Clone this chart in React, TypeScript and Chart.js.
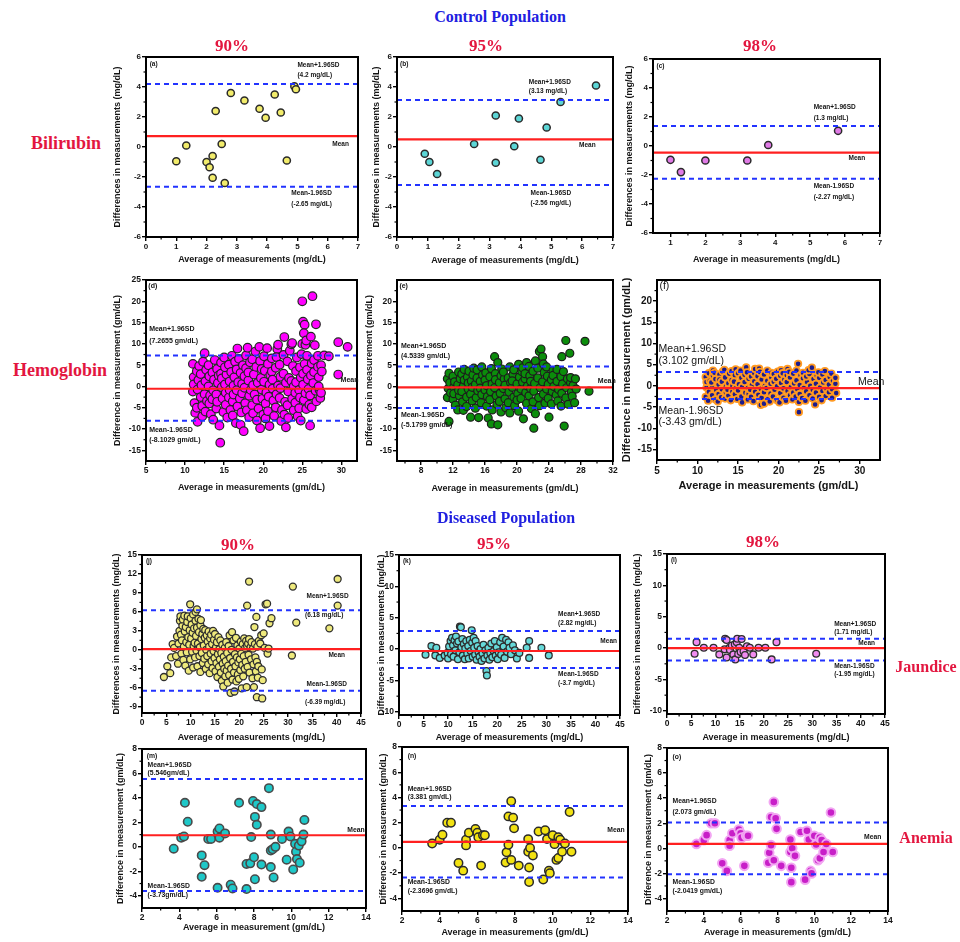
import React, { useEffect, useRef } from 'react';
import { Chart, registerables } from 'chart.js';
Chart.register(...registerables);

type Pt = [number, number];

// ---------- data ----------
const bili90: Pt[] = [[1.0,-0.95],[1.33,0.1],[2.3,2.4],[2.0,-1.0],[2.1,-1.35],[2.2,-0.6],[2.2,-2.05],[2.5,0.2],[2.6,-2.4],[2.8,3.6],[3.25,3.1],[3.75,2.55],[3.95,1.95],[4.25,3.5],[4.45,2.3],[4.65,-0.9],[4.9,4.05],[4.95,3.85]];
const bili95: Pt[] = [[0.9,-0.45],[1.05,-1.0],[1.3,-1.8],[2.5,0.2],[3.2,2.1],[3.2,-1.05],[3.8,0.05],[3.95,1.9],[4.65,-0.85],[4.85,1.3],[5.3,3.0],[6.45,4.1]];
const bili98: Pt[] = [[1.0,-0.95],[1.3,-1.8],[2.0,-1.0],[3.2,-1.0],[3.8,0.07],[5.8,1.05]];

const hb90: Pt[] = [[11.0,5.3],[11.1,2.2],[11.0,-1.2],[11.2,-3.9],[11.1,0.5],[11.3,-6.2],[11.5,3.6],[11.6,-0.7],[11.5,-5.0],[11.7,1.5],[11.6,-8.3],[11.8,4.8],
[12.0,-2.5],[12.1,0.3],[12.0,2.9],[12.2,-4.6],[12.3,5.8],[12.2,-7.0],[12.5,7.8],[12.6,1.2],[12.5,-1.8],[12.7,3.9],[12.8,-3.4],[12.6,-5.9],
[13.0,0.0],[13.1,2.4],[13.2,-2.1],[13.0,5.0],[13.3,-6.5],[13.1,-4.0],[13.5,3.3],[13.6,-0.9],[13.7,1.6],[13.5,-3.0],[13.8,6.2],[13.6,-7.8],
[14.0,-1.9],[14.1,4.1],[14.2,0.8],[14.0,-5.2],[14.3,2.6],[14.1,-3.6],[14.4,-9.2],[14.5,-13.2],[14.6,5.6],[14.7,-0.2],[14.8,-2.8],[14.6,3.0],[14.9,-6.0],[14.7,1.9],
[15.1,0.5],[15.2,-4.3],[15.0,6.8],[15.3,2.8],[15.2,-1.5],[15.4,-7.3],[15.1,4.5],[15.6,-2.6],[15.7,1.2],[15.8,-5.5],[15.6,5.1],[15.9,3.4],[15.7,-0.8],[16.0,7.2],
[16.1,-3.5],[16.2,0.2],[16.3,2.2],[16.1,-6.8],[16.4,5.8],[16.2,-1.9],[16.5,-8.6],[16.6,4.0],[16.7,-4.7],[16.8,1.0],[16.6,-0.9],[16.9,6.5],[16.7,8.9],[17.0,-2.8],
[17.1,3.2],[17.2,-6.1],[17.3,0.6],[17.1,-9.0],[17.4,5.0],[17.3,-1.6],[17.5,-10.5],[17.6,2.4],[17.7,-3.9],[17.8,7.3],[17.6,-0.3],[17.9,-5.6],[17.8,4.3],
[18.1,1.4],[18.2,-2.2],[18.0,9.1],[18.3,5.7],[18.2,-7.2],[18.4,-0.8],[18.1,3.3],[18.6,-4.4],[18.7,0.3],[18.8,2.8],[18.6,6.4],[18.9,-1.9],[18.7,-6.3],
[19.1,4.6],[19.2,-3.1],[19.0,8.2],[19.3,0.9],[19.4,-5.2],[19.2,-8.0],[19.5,9.3],[19.6,-9.8],[19.7,2.0],[19.8,-0.7],[19.6,6.0],[19.9,-2.9],[19.8,4.1],[20.0,-6.6],
[20.1,1.1],[20.2,3.7],[20.3,-4.0],[20.1,7.1],[20.4,-1.4],[20.5,9.0],[20.3,-7.5],[20.6,5.3],[20.7,-2.4],[20.8,0.4],[20.6,-5.8],[20.9,2.7],[20.8,-9.3],
[21.1,6.6],[21.2,-0.5],[21.3,-3.3],[21.1,3.5],[21.4,-6.9],[21.2,1.6],[21.6,4.4],[21.7,-1.8],[21.8,8.8],[21.6,-4.9],[21.9,0.2],[21.7,6.9],[21.9,9.8],
[22.1,-2.7],[22.2,2.3],[22.3,-8.1],[22.1,5.1],[22.4,-5.5],[22.2,-0.4],[22.6,3.0],[22.7,11.6],[22.8,-3.6],[22.6,7.4],[22.9,0.9],[22.7,-6.6],[22.9,-9.6],
[23.1,5.9],[23.2,-1.2],[23.3,2.0],[23.1,-4.4],[23.4,8.4],[23.2,-7.4],[23.6,1.3],[23.7,-2.9],[23.8,4.8],[23.6,9.9],[23.9,-5.6],[23.7,10.2],[23.9,0.0],
[24.1,-1.5],[24.2,3.6],[24.3,6.8],[24.1,-3.8],[24.4,-7.0],[24.2,1.0],[24.6,-0.8],[24.7,4.5],[24.8,2.1],[24.6,-5.1],[24.9,7.6],[24.7,-2.6],[24.8,-8.0],
[25.0,20.0],[25.1,15.2],[25.3,14.5],[25.2,12.5],[25.0,10.0],[25.4,9.8],[25.1,0.4],[25.2,-3.2],[25.3,5.3],[25.1,3.0],[25.4,-1.6],[25.5,-5.3],
[25.6,7.2],[25.7,1.7],[25.8,-0.6],[25.6,3.9],[25.9,-4.3],[25.5,10.8],[26.0,-9.2],[26.1,2.6],[26.2,5.4],[26.0,-2.1],[26.3,21.2],[26.1,11.7],[26.2,-4.9],[26.4,0.8],
[26.5,6.2],[26.75,14.6],[26.7,-1.0],[26.5,3.4],[26.8,-3.5],[26.6,9.7],[27.0,7.2],[27.1,2.2],[27.2,-0.8],[27.0,4.6],[27.3,-2.7],[27.1,0.0],[27.4,5.0],
[27.8,7.3],[28.4,7.1],[27.5,3.5],[27.4,-1.5],[29.6,10.4],[30.8,9.3],[29.6,2.8]];

const hb95: Pt[] = [[11.3,1.8],[11.4,-0.5],[11.3,-2.6],[11.5,-8.2],[11.6,0.9],[11.7,-1.5],[11.5,3.1],[12.0,2.4],[12.1,-0.1],[12.0,-3.0],[12.2,1.1],[12.3,-4.4],[12.1,-1.7],
[12.6,0.4],[12.7,3.4],[12.8,-2.2],[12.6,-5.5],[12.9,1.8],[12.7,-0.9],[13.1,2.9],[13.2,-3.6],[13.3,0.1],[13.1,-1.2],[13.4,4.0],[13.3,-5.6],[13.4,1.5],
[13.7,-2.5],[13.8,2.2],[13.9,-0.6],[13.7,-4.7],[14.0,3.6],[13.9,0.8],[14.2,-1.8],[14.3,1.3],[14.4,-3.4],[14.2,-7.2],[14.5,2.7],[14.4,-0.2],[14.6,4.3],
[14.8,0.5],[14.9,-2.6],[15.0,2.0],[14.8,-5.1],[15.1,-1.0],[15.0,3.9],[15.2,-7.3],[15.4,1.2],[15.5,-3.8],[15.6,4.6],[15.4,-0.4],[15.7,2.7],[15.6,-1.9],
[16.0,-0.8],[16.1,3.2],[16.2,-4.6],[16.0,1.5],[16.3,-2.4],[16.2,0.2],[16.4,-7.4],[16.6,2.3],[16.7,-1.2],[16.8,4.2],[16.6,-3.1],[16.9,0.6],[16.8,-8.8],[16.9,-5.5],
[17.2,-0.3],[17.3,3.0],[17.2,7.0],[17.4,-2.2],[17.3,1.6],[17.5,-4.2],[17.6,5.6],[17.6,-9.0],[17.8,0.9],[17.9,-1.6],[18.0,2.5],[17.8,-3.5],[18.1,4.1],[18.0,-6.0],
[18.3,-0.5],[18.4,1.8],[18.5,-2.9],[18.3,3.4],[18.6,-5.0],[18.5,0.3],[18.9,2.0],[19.0,-1.3],[19.1,4.6],[18.9,-3.8],[19.2,0.9],[19.1,-6.2],
[19.4,-0.2],[19.5,2.8],[19.6,-2.5],[19.4,1.3],[19.7,-4.5],[19.6,3.9],[20.0,0.6],[20.1,-1.7],[20.2,5.2],[20.0,-3.2],[20.3,2.2],[20.2,-5.8],
[20.5,-0.6],[20.6,3.5],[20.7,1.0],[20.5,-2.8],[20.8,-7.6],[20.7,4.4],[21.0,1.8],[21.1,-1.4],[21.2,-4.0],[21.0,3.0],[21.3,0.1],[21.2,5.6],
[21.5,-2.2],[21.6,2.5],[21.7,-0.5],[21.5,4.7],[21.8,-5.2],[21.7,1.2],[22.0,3.6],[22.1,-1.1],[22.2,0.7],[22.0,-3.6],[22.3,6.0],[22.1,-9.8],[22.3,-6.4],
[22.6,2.0],[22.7,-2.6],[22.8,8.2],[22.6,4.3],[22.9,-0.3],[23.0,8.8],[22.8,-4.5],[23.2,1.1],[23.3,-1.8],[23.4,3.3],[23.2,7.0],[23.5,-3.9],[23.3,5.3],
[23.7,-0.6],[23.8,2.4],[23.9,-2.8],[23.7,4.6],[24.0,-7.2],[23.9,0.5],[24.3,1.6],[24.4,-1.2],[24.5,3.7],[24.3,-4.1],[24.6,0.0],[24.5,2.6],
[24.9,-2.0],[25.0,1.2],[25.1,-3.4],[25.0,4.0],[25.2,-0.7],[25.6,7.0],[25.5,2.3],[25.6,-1.6],[25.7,0.6],[25.5,-4.6],[25.8,3.5],[25.9,-9.3],
[26.1,10.8],[26.2,-0.3],[26.3,1.8],[26.1,-2.7],[26.4,-4.2],[26.6,7.8],[26.7,0.9],[26.8,-1.3],[26.9,-2.3],[26.7,2.1],[27.0,0.2],[27.2,-3.8],[27.3,1.8],[27.4,-0.6],
[28.5,10.6],[29.0,-1.1]];

const hb98: Pt[] = [[11.0,2.1],[11.1,-0.4],[11.0,-2.6],[11.1,0.9],[11.4,3.0],[11.5,1.2],[11.4,-1.4],[11.3,-3.5],[11.8,-0.2],[11.9,2.4],[11.8,-2.2],[11.7,0.8],[11.9,3.6],
[12.2,1.6],[12.3,-1.0],[12.2,-3.2],[12.1,3.1],[12.6,0.3],[12.7,2.7],[12.6,-1.9],[12.5,-3.7],[12.7,1.5],[13.0,-0.8],[13.1,3.4],[13.0,1.0],[12.9,-2.7],
[13.4,2.0],[13.5,-0.1],[13.4,-3.0],[13.3,3.8],[13.5,-1.6],[13.8,0.6],[13.9,2.9],[13.8,-2.3],[13.7,-0.9],[14.2,1.4],[14.3,-1.3],[14.2,3.5],[14.1,-3.4],[14.3,0.0],
[14.6,2.5],[14.7,-0.6],[14.6,-2.0],[14.5,1.0],[14.7,3.9],[15.0,-1.1],[15.1,0.4],[15.0,3.0],[14.9,-3.1],[15.4,1.9],[15.5,-0.2],[15.4,-2.5],[15.3,3.6],[15.5,-3.9],
[15.8,0.9],[15.9,-1.6],[15.8,2.6],[16.0,4.4],[16.2,-0.5],[16.3,1.7],[16.2,-3.2],[16.1,3.2],[16.3,-1.9],[16.6,2.2],[16.7,0.2],[16.6,-2.6],[16.5,-0.9],
[17.0,3.0],[17.1,-1.4],[17.0,1.1],[16.9,-3.6],[17.1,4.0],[17.4,0.4],[17.5,-2.1],[17.4,2.3],[17.6,4.1],[17.8,-0.7],[17.9,1.5],[17.8,-4.5],[17.7,3.3],[17.9,-2.8],
[18.2,2.7],[18.3,0.0],[18.2,-1.5],[18.2,-4.2],[18.6,1.2],[18.7,-3.1],[18.6,3.6],[18.5,-0.5],[19.0,-1.8],[19.1,2.0],[19.0,0.5],[18.9,-3.7],[19.1,3.1],
[19.4,1.0],[19.5,-0.9],[19.4,2.8],[19.3,-2.5],[19.8,-0.1],[19.9,3.4],[19.8,-3.4],[19.7,1.7],[20.2,2.4],[20.3,0.7],[20.2,-1.7],[20.1,-3.9],[20.3,3.7],
[20.6,-0.6],[20.7,1.5],[20.6,-2.8],[20.5,3.0],[21.0,0.9],[21.1,-1.2],[21.0,2.5],[20.9,-3.5],[21.1,4.0],[21.4,2.0],[21.5,-0.3],[21.4,-2.2],[21.3,3.3],
[21.8,-1.6],[21.9,0.6],[21.8,2.9],[21.7,-3.2],[22.2,1.3],[22.3,-0.8],[22.2,3.6],[22.1,-2.5],[22.4,5.2],[22.5,-6.2],[22.6,0.2],[22.7,2.5],[22.6,-1.9],[22.5,-3.8],
[23.0,1.8],[23.1,-0.5],[23.0,3.1],[22.9,-2.9],[23.4,-1.3],[23.5,0.9],[23.4,2.2],[23.3,-3.5],[23.8,2.8],[23.9,0.0],[23.8,-2.2],[23.7,3.7],
[24.2,-0.9],[24.3,1.6],[24.2,-3.0],[24.1,4.3],[24.6,0.5],[24.7,2.4],[24.6,-1.6],[24.5,-4.4],[25.0,1.9],[25.1,-0.4],[25.0,-2.6],[24.9,3.2],
[25.4,-1.2],[25.5,0.8],[25.4,2.7],[25.3,-3.4],[25.8,1.4],[25.9,-0.7],[25.8,-2.4],[25.7,3.5],[26.2,0.3],[26.3,2.1],[26.2,-1.5],[26.6,-0.8],[26.7,1.2],[26.6,-2.8],[26.5,2.9],[27.0,0.5],[27.1,-1.7],[27.0,1.9]];

const jaun90: Pt[] = [[4.5,-4.3],[5.2,-2.6],[5.8,-3.7],[6.0,-1.2],[6.3,0.9],[6.6,0.3],[7.0,-1.0],[7.2,2.1],[7.4,-2.2],[7.5,1.0],
[7.7,3.0],[7.8,4.6],[7.9,5.3],[8.0,2.4],[8.1,-0.6],[8.2,1.5],[8.3,3.8],[8.4,4.8],[8.5,-1.6],[8.6,0.5],[8.7,5.4],[8.8,2.9],[8.9,-2.5],[9.0,3.6],[9.1,1.2],[9.2,-0.4],[9.3,4.4],[9.4,5.3],[9.5,2.0],[9.6,-3.3],[9.7,0.8],[9.8,3.1],[9.9,7.2],[10.0,5.0],[9.9,-1.5],
[10.1,1.8],[10.2,4.0],[10.3,-0.3],[10.4,2.7],[10.5,5.6],[10.5,-2.8],[10.6,0.6],[10.7,3.4],[10.8,1.1],[10.9,-1.2],[11.0,4.6],[11.0,6.0],[11.1,2.2],[11.2,-0.1],[11.3,6.4],[11.3,3.5],[11.4,-2.6],[11.5,1.0],[11.6,4.9],[11.7,2.8],[11.8,-1.0],[11.9,0.4],
[12.0,3.9],[12.0,-3.5],[12.1,4.7],[12.2,1.7],[12.3,-0.5],[12.4,2.5],[12.5,-2.1],[12.6,3.3],[12.7,0.7],[12.8,-1.4],[12.9,1.9],[13.0,3.1],[13.1,-3.0],[13.2,0.0],[13.3,2.3],[13.4,-1.0],[13.5,1.3],[13.6,-2.3],[13.7,2.9],[13.8,0.5],[13.9,-3.7],
[14.0,1.8],[14.1,-0.6],[14.2,2.4],[14.3,-1.8],[14.4,0.9],[14.5,-2.9],[14.6,3.0],[14.7,-0.2],[14.8,1.6],[14.9,-1.3],[15.0,2.5],[15.1,-3.4],[15.2,0.4],[15.3,-2.1],[15.4,1.2],[15.5,-4.3],[15.6,-0.7],[15.7,2.0],[15.8,-2.7],[15.9,0.1],
[16.0,-1.5],[16.1,1.5],[16.2,-3.6],[16.3,-0.5],[16.4,-4.9],[16.5,0.8],[16.6,-2.2],[16.7,-5.8],[16.8,-1.1],[16.9,-3.0],[17.0,0.3],[17.1,-4.2],[17.2,-1.8],[17.3,1.2],[17.4,-3.3],[17.5,-0.5],[17.6,-5.2],[17.7,-2.5],[17.8,0.6],[17.9,-4.0],
[18.0,2.3],[18.1,-1.3],[18.2,-6.8],[18.3,-3.0],[18.4,0.0],[18.5,2.8],[18.6,-4.7],[18.7,-1.9],[18.8,1.5],[18.9,-3.6],[19.0,-6.6],[19.1,-0.7],[19.2,-2.6],[19.3,1.9],[19.4,-5.0],[19.5,-1.2],[19.6,0.7],[19.7,-3.9],[19.8,-2.0],[19.9,-4.6],
[20.0,0.2],[20.1,-1.5],[20.2,-3.2],[20.3,1.3],[20.5,-6.1],[20.4,-0.6],[20.6,-2.4],[20.7,0.9],[20.8,-4.2],[20.9,-1.0],[21.0,1.8],[21.1,-3.0],[21.2,0.3],[21.3,-1.9],[21.4,1.4],[21.5,-5.9],[21.6,0.6],[21.6,7.0],[21.7,-2.7],[21.8,1.0],[21.9,-0.8],
[22.0,10.8],[22.0,1.7],[22.1,-3.6],[22.3,0.4],[22.4,-1.5],[22.5,1.2],[22.7,-4.5],[22.8,0.2],[22.9,-2.3],[23.0,-5.9],[23.1,3.6],[23.2,0.9],[23.3,-1.2],[23.4,-3.4],[23.5,5.2],[23.6,-7.5],[23.6,-1.9],[23.7,0.5],[23.8,-4.4],[23.9,-2.6],
[24.0,1.4],[24.3,1.0],[24.5,2.3],[24.6,-3.1],[24.7,-7.7],[24.8,-4.8],[25.0,2.6],[25.2,0.3],[25.4,7.2],[25.7,7.3],[25.8,-0.6],[26.0,0.2],[26.2,4.2],[26.6,5.0],
[30.8,-0.9],[31.0,10.0],[31.7,4.3],[38.5,3.4],[40.2,11.2],[40.2,7.0]];

const jaun95: Pt[] = [[5.4,-0.9],[6.6,0.5],[7.4,-1.0],[7.6,0.2],[8.3,-1.4],[9.3,-1.0],[9.9,-0.6],[10.0,-1.5],[10.2,0.4],[10.5,1.3],[10.6,-0.8],[10.8,1.8],[11.0,0.6],[11.1,-1.2],[11.3,1.4],[11.5,-0.2],[11.6,2.0],[11.8,0.9],[12.0,-1.6],[12.1,1.2],[12.3,-0.5],[12.4,3.6],[12.6,3.5],[12.7,0.3],[12.9,1.6],[13.0,-1.0],[13.2,0.8],[13.4,-1.6],[13.5,0.1],[13.7,1.3],[13.9,-0.7],[14.1,0.5],[14.2,-1.5],[14.4,1.5],[14.6,-0.3],[14.8,3.0],[14.9,1.0],[15.0,-1.2],[15.2,1.8],[15.3,0.2],[15.5,-0.9],[15.6,1.3],[15.8,-1.7],[16.0,0.5],[16.2,-0.5],[16.4,-1.2],[16.6,0.0],[16.8,-1.9],[17.0,-0.7],[17.2,0.7],[17.4,-1.5],[17.6,-0.2],[17.8,-3.5],[17.9,-4.2],[18.0,-1.0],[18.2,0.2],[18.4,-1.7],[18.6,-0.6],[18.8,0.9],[19.0,-1.3],[19.3,-0.3],[19.5,1.3],[19.7,-1.0],[19.9,0.3],[20.1,-1.6],[20.3,-0.5],[20.6,1.1],[20.8,-0.9],[21.0,1.8],[21.3,0.4],[21.5,-1.4],[21.8,1.5],[22.0,-0.4],[22.3,1.1],[22.5,0.2],[22.8,-0.8],[23.2,0.6],[23.6,-0.2],[24.0,-1.5],[24.5,-0.6],[26.0,0.2],[26.5,1.3],[26.5,-1.4],[29.0,0.2],[30.5,-1.0]];

const jaun98: Pt[] = [[5.7,-0.9],[6.1,0.95],[7.6,0.05],[9.6,0.05],[10.8,-1.0],[11.9,-0.2],[12.0,1.5],[12.3,1.3],[12.3,-1.5],[12.9,0.05],[13.0,-0.3],[13.4,0.4],[13.7,-1.0],[14.0,0.6],[14.1,-1.8],[14.4,0.95],[14.5,1.5],[14.7,-0.95],[14.9,0.05],[15.2,-0.6],[15.4,1.45],[15.8,-0.5],[16.1,-1.1],[16.5,0.3],[17.1,0.05],[17.8,-1.0],[18.9,0.05],[20.3,0.05],[21.6,-1.8],[22.6,0.95],[30.8,-0.9]];

const anem90: Pt[] = [[3.7,-0.15],[4.1,0.75],[4.25,0.85],[4.3,3.6],[4.45,2.05],[5.2,-0.7],[5.35,-1.5],[5.2,-2.45],[5.55,0.65],[5.7,0.65],[6.05,-3.35],[6.05,1.25],[6.15,1.5],[6.15,0.75],[6.45,1.1],[6.75,-3.1],[6.85,-3.4],[7.2,3.6],[7.6,-3.45],[7.6,-1.4],[7.8,-1.35],[7.85,0.8],[7.95,3.75],[8.0,-0.85],[8.15,3.5],[8.05,2.45],[8.15,1.8],[8.05,-2.65],[8.4,3.25],[8.4,-1.45],[8.8,4.8],[8.9,1.0],[8.9,-0.3],[8.9,-1.65],[9.0,-0.2],[9.05,-2.5],[9.15,0.0],[9.5,0.65],[9.75,-1.05],[9.85,1.25],[9.95,0.85],[10.1,-1.85],[10.2,0.25],[10.25,-0.4],[10.3,-1.0],[10.4,0.1],[10.45,-1.3],[10.55,0.45],[10.65,1.0],[10.7,2.2]];

const anem95: Pt[] = [[3.6,0.35],[4.0,0.65],[4.15,1.05],[4.4,2.0],[4.6,2.0],[5.0,-1.2],[5.25,-1.8],[5.4,0.65],[5.4,0.2],[5.55,1.2],[5.9,1.5],[6.0,1.2],[6.05,0.85],[6.2,-1.4],[6.3,1.0],[6.4,1.0],[7.5,-1.15],[7.55,-0.35],[7.65,0.25],[7.65,2.5],[7.8,3.7],[7.8,-0.95],[7.9,2.4],[7.95,1.55],[8.2,-1.4],[8.7,0.7],[8.7,-0.3],[8.75,-1.55],[8.75,-2.7],[8.8,0.0],[8.95,-0.6],[9.25,1.3],[9.5,-2.5],[9.6,1.4],[9.7,0.7],[9.8,-1.8],[9.85,-2.0],[10.0,1.0],[10.1,0.3],[10.2,-0.95],[10.3,-0.8],[10.3,0.85],[10.4,0.65],[10.5,-0.3],[10.65,0.35],[10.9,2.85],[11.0,-0.3]];
const anem98: Pt[] = anem95;

// ---------- panel settings ----------
type Ann = { x: number; y: number; t: string; al?: CanvasTextAlign };
interface Cfg {
  plot: [number, number, number, number];
  yw: number; xh: number;
  xMin: number; xMax: number; xTicks: number[];
  yMin: number; yMax: number; yTicks: number[];
  xTitle: string; yTitle: string;
  tickSize: number; titleSize: number; titleWeight: string;
  pts: Pt[]; fill: string; stroke: string; r: number; bw: number;
  mean: number; upper: number; lower: number;
  anns: Ann[]; annSize: number; annWeight: string;
}

const SANS = '"Liberation Sans", Arial, sans-serif';
const SERIF = '"Liberation Serif", "Times New Roman", serif';
const range = (a: number, b: number, s: number) => { const o: number[] = []; for (let v = a; v <= b + 1e-9; v += s) o.push(Math.round(v * 100) / 100); return o; };

const yDiffMg = 'Differences in measurements (mg/dL)';
const yDiffGm = 'Difference in measurement (gm/dL)';

const panels: Cfg[] = [
  { plot: [146, 57, 358, 237], yw: 34, xh: 28, xMin: 0, xMax: 7, xTicks: range(0, 7, 1), yMin: -6, yMax: 6, yTicks: range(-6, 6, 2),
    xTitle: 'Average of measurements (mg/dL)', yTitle: yDiffMg, tickSize: 8, titleSize: 9, titleWeight: 'bold',
    pts: bili90, fill: '#f2ec6b', stroke: '#2a2a2a', r: 3.6, bw: 1.5, mean: 0.73, upper: 4.2, lower: -2.65,
    anns: [{ x: 0.12, y: 5.5, t: '(a)' }, { x: 5.0, y: 5.45, t: 'Mean+1.96SD' }, { x: 5.0, y: 4.8, t: '(4.2 mg/dL)' }, { x: 6.15, y: 0.2, t: 'Mean' }, { x: 4.8, y: -3.05, t: 'Mean-1.96SD' }, { x: 4.8, y: -3.8, t: '(-2.65 mg/dL)' }],
    annSize: 6.5, annWeight: 'bold' },
  { plot: [397, 57, 613, 237], yw: 26, xh: 29, xMin: 0, xMax: 7, xTicks: range(0, 7, 1), yMin: -6, yMax: 6, yTicks: range(-6, 6, 2),
    xTitle: 'Average of measurements (mg/dL)', yTitle: yDiffMg, tickSize: 8, titleSize: 9, titleWeight: 'bold',
    pts: bili95, fill: '#5cd6d6', stroke: '#2a2a2a', r: 3.6, bw: 1.5, mean: 0.51, upper: 3.13, lower: -2.53,
    anns: [{ x: 0.1, y: 5.5, t: '(b)' }, { x: 4.27, y: 4.35, t: 'Mean+1.96SD' }, { x: 4.27, y: 3.75, t: '(3.13 mg/dL)' }, { x: 5.9, y: 0.1, t: 'Mean' }, { x: 4.33, y: -3.1, t: 'Mean-1.96SD' }, { x: 4.33, y: -3.75, t: '(-2.56 mg/dL)' }],
    annSize: 6.5, annWeight: 'bold' },
  { plot: [653, 59, 880, 233], yw: 29, xh: 32, xMin: 0.5, xMax: 7, xTicks: range(1, 7, 1), yMin: -6, yMax: 6, yTicks: range(-6, 6, 2),
    xTitle: 'Average in measurements (mg/dL)', yTitle: yDiffMg, tickSize: 8, titleSize: 9, titleWeight: 'bold',
    pts: bili98, fill: '#e07ae6', stroke: '#2a2a2a', r: 3.6, bw: 1.5, mean: -0.46, upper: 1.38, lower: -2.26,
    anns: [{ x: 0.6, y: 5.5, t: '(c)' }, { x: 5.1, y: 2.7, t: 'Mean+1.96SD' }, { x: 5.1, y: 1.95, t: '(1.3 mg/dL)' }, { x: 6.1, y: -0.85, t: 'Mean' }, { x: 5.1, y: -2.8, t: 'Mean-1.96SD' }, { x: 5.1, y: -3.5, t: '(-2.27 mg/dL)' }],
    annSize: 6.5, annWeight: 'bold' },
  { plot: [146, 280, 357, 461], yw: 34, xh: 32, xMin: 5, xMax: 32, xTicks: range(5, 30, 5), yMin: -17.5, yMax: 25, yTicks: range(-15, 25, 5),
    xTitle: 'Average in measurements (gm/dL)', yTitle: yDiffGm, tickSize: 8.5, titleSize: 9, titleWeight: 'bold',
    pts: hb90, fill: '#ff00ff', stroke: '#262626', r: 4.3, bw: 1.2, mean: -0.54, upper: 7.26, lower: -8.03,
    anns: [{ x: 5.3, y: 23.6, t: '(d)' }, { x: 5.4, y: 13.4, t: 'Mean+1.96SD' }, { x: 5.4, y: 10.7, t: '(7.2655 gm/dL)' }, { x: 29.9, y: 1.6, t: 'Mean' }, { x: 5.4, y: -10.3, t: 'Mean-1.96SD' }, { x: 5.4, y: -12.7, t: '(-8.1029 gm/dL)' }],
    annSize: 7, annWeight: 'bold' },
  { plot: [397, 280, 613, 461], yw: 33, xh: 33, xMin: 5, xMax: 32, xTicks: range(8, 32, 4), yMin: -17.5, yMax: 25, yTicks: range(-15, 20, 5),
    xTitle: 'Average in measurements (gm/dL)', yTitle: yDiffGm, tickSize: 8.5, titleSize: 9, titleWeight: 'bold',
    pts: hb95, fill: '#0b8d0b', stroke: '#1c1c1c', r: 4, bw: 1.2, mean: -0.23, upper: 4.68, lower: -5.06,
    anns: [{ x: 5.3, y: 23.6, t: '(e)' }, { x: 5.5, y: 9.5, t: 'Mean+1.96SD' }, { x: 5.5, y: 7.2, t: '(4.5339 gm/dL)' }, { x: 30.1, y: 1.3, t: 'Mean' }, { x: 5.5, y: -6.8, t: 'Mean-1.96SD' }, { x: 5.5, y: -9.1, t: '(-5.1799 gm/dL)' }],
    annSize: 7, annWeight: 'bold' },
  { plot: [657, 280, 880, 460], yw: 37, xh: 33, xMin: 5, xMax: 32.5, xTicks: range(5, 30, 5), yMin: -17.5, yMax: 25, yTicks: range(-15, 20, 5),
    xTitle: 'Average in measurements (gm/dL)', yTitle: yDiffGm, tickSize: 10, titleSize: 11, titleWeight: 'bold',
    pts: hb98, fill: '#1c1c8c', stroke: '#ff9a22', r: 3.2, bw: 1.8, mean: -0.54, upper: 3.28, lower: -3.1,
    anns: [{ x: 5.3, y: 23.6, t: '(f)' }, { x: 5.2, y: 8.6, t: 'Mean+1.96SD' }, { x: 5.2, y: 5.9, t: '(3.102 gm/dL)' }, { x: 29.8, y: 1.0, t: 'Mean' }, { x: 5.2, y: -5.9, t: 'Mean-1.96SD' }, { x: 5.2, y: -8.6, t: '(-3.43 gm/dL)' }],
    annSize: 10.5, annWeight: 'normal' },
  { plot: [142, 555, 361, 713], yw: 31, xh: 30, xMin: 0, xMax: 45, xTicks: range(0, 45, 5), yMin: -10, yMax: 15, yTicks: range(-9, 15, 3),
    xTitle: 'Average of measurements (mg/dL)', yTitle: yDiffMg, tickSize: 8.5, titleSize: 9, titleWeight: 'bold',
    pts: jaun90, fill: '#eee97c', stroke: '#2e2e2e', r: 3.5, bw: 1.3, mean: 0.1, upper: 6.24, lower: -6.46,
    anns: [{ x: 0.8, y: 14.0, t: '(j)' }, { x: 33.8, y: 8.5, t: 'Mean+1.96SD' }, { x: 33.5, y: 5.5, t: '(6.18 mg/dL)' }, { x: 38.3, y: -0.9, t: 'Mean' }, { x: 33.8, y: -5.5, t: 'Mean-1.96SD' }, { x: 33.5, y: -8.3, t: '(-6.39 mg/dL)' }],
    annSize: 6.5, annWeight: 'bold' },
  { plot: [399, 555, 620, 715], yw: 23, xh: 28, xMin: 0, xMax: 45, xTicks: range(0, 45, 5), yMin: -10.5, yMax: 15, yTicks: range(-10, 15, 5),
    xTitle: 'Average of measurements (mg/dL)', yTitle: yDiffMg, tickSize: 8.5, titleSize: 9, titleWeight: 'bold',
    pts: jaun95, fill: '#66d9d9', stroke: '#2e2e2e', r: 3.4, bw: 1.3, mean: -0.3, upper: 2.9, lower: -3.0,
    anns: [{ x: 0.8, y: 14.0, t: '(k)' }, { x: 32.4, y: 5.6, t: 'Mean+1.96SD' }, { x: 32.4, y: 4.1, t: '(2.82 mg/dL)' }, { x: 41, y: 1.3, t: 'Mean' }, { x: 32.4, y: -4.0, t: 'Mean-1.96SD' }, { x: 32.4, y: -5.4, t: '(-3.7 mg/dL)' }],
    annSize: 6.5, annWeight: 'bold' },
  { plot: [667, 554, 885, 714], yw: 35, xh: 29, xMin: 0, xMax: 45, xTicks: range(0, 45, 5), yMin: -10.5, yMax: 15, yTicks: range(-10, 15, 5),
    xTitle: 'Average in measurements (mg/dL)', yTitle: yDiffMg, tickSize: 8.5, titleSize: 9, titleWeight: 'bold',
    pts: jaun98, fill: '#f08cf0', stroke: '#2e2e2e', r: 3.4, bw: 1.3, mean: 0.0, upper: 1.5, lower: -1.97,
    anns: [{ x: 0.8, y: 14.0, t: '(l)' }, { x: 34.5, y: 3.8, t: 'Mean+1.96SD' }, { x: 34.5, y: 2.5, t: '(1.71 mg/dL)' }, { x: 39.5, y: 0.8, t: 'Mean' }, { x: 34.5, y: -2.9, t: 'Mean-1.96SD' }, { x: 34.5, y: -4.2, t: '(-1.95 mg/dL)' }],
    annSize: 6.5, annWeight: 'bold' },
  { plot: [142, 749, 366, 908], yw: 27, xh: 25, xMin: 2, xMax: 14, xTicks: range(2, 14, 2), yMin: -5, yMax: 8, yTicks: range(-4, 8, 2),
    xTitle: 'Average in measurement (gm/dL)', yTitle: yDiffGm, tickSize: 8.5, titleSize: 9, titleWeight: 'bold',
    pts: anem90, fill: '#1ec8c8', stroke: '#4a4a4a', r: 4.2, bw: 1.6, mean: 0.95, upper: 5.55, lower: -3.62,
    anns: [{ x: 2.25, y: 7.4, t: '(m)' }, { x: 2.3, y: 6.7, t: 'Mean+1.96SD' }, { x: 2.3, y: 6.0, t: '(5.546gm/dL)' }, { x: 13.0, y: 1.4, t: 'Mean' }, { x: 2.3, y: -3.2, t: 'Mean-1.96SD' }, { x: 2.3, y: -3.95, t: '(-3.73gm/dL)' }],
    annSize: 6.8, annWeight: 'bold' },
  { plot: [402, 747, 628, 911], yw: 24, xh: 27, xMin: 2, xMax: 14, xTicks: range(2, 14, 2), yMin: -5, yMax: 8, yTicks: range(-4, 8, 2),
    xTitle: 'Average in measurements (gm/dL)', yTitle: yDiffGm, tickSize: 8.5, titleSize: 9, titleWeight: 'bold',
    pts: anem95, fill: '#f2e212', stroke: '#2a2a2a', r: 4.2, bw: 1.5, mean: 0.48, upper: 3.33, lower: -2.35,
    anns: [{ x: 2.3, y: 7.3, t: '(n)' }, { x: 2.3, y: 4.7, t: 'Mean+1.96SD' }, { x: 2.3, y: 4.0, t: '(3.381 gm/dL)' }, { x: 12.9, y: 1.4, t: 'Mean' }, { x: 2.3, y: -2.7, t: 'Mean-1.96SD' }, { x: 2.3, y: -3.45, t: '(-2.3696 gm/dL)' }],
    annSize: 6.8, annWeight: 'bold' },
  { plot: [667, 748, 888, 911], yw: 24, xh: 27, xMin: 2, xMax: 14, xTicks: range(2, 14, 2), yMin: -5, yMax: 8, yTicks: range(-4, 8, 2),
    xTitle: 'Average in measurements (gm/dL)', yTitle: yDiffGm, tickSize: 8.5, titleSize: 9, titleWeight: 'bold',
    pts: anem98, fill: '#c81fc8', stroke: '#f2a6f2', r: 4.3, bw: 2, mean: 0.35, upper: 2.06, lower: -2.07,
    anns: [{ x: 2.3, y: 7.3, t: '(o)' }, { x: 2.3, y: 3.75, t: 'Mean+1.96SD' }, { x: 2.3, y: 2.85, t: '(2.073 gm/dL)' }, { x: 12.7, y: 0.9, t: 'Mean' }, { x: 2.3, y: -2.7, t: 'Mean-1.96SD' }, { x: 2.3, y: -3.45, t: '(-2.0419 gm/dL)' }],
    annSize: 6.8, annWeight: 'bold' },
];

const PAD_T = 8, PAD_R = 12;

function Panel({ cfg }: { cfg: Cfg }) {
  const ref = useRef<HTMLCanvasElement>(null);
  const [l, t, r, b] = cfg.plot;
  const W = r - l + cfg.yw + PAD_R;
  const H = b - t + PAD_T + cfg.xh;
  useEffect(() => {
    const canvas = ref.current!;
    const lineDs = (v: number, color: string, width: number, dash: number[]) => ({
      type: 'scatter' as const, showLine: true, data: [{ x: cfg.xMin, y: v }, { x: cfg.xMax, y: v }],
      borderColor: color, borderWidth: width, borderDash: dash, pointRadius: 0, fill: false,
    });
    const deco = {
      id: 'deco',
      afterDraw(chart: any) {
        const { ctx, chartArea: ca, scales } = chart;
        const xs = scales.x, ys = scales.y;
        ctx.save();
        ctx.strokeStyle = '#000';
        ctx.lineWidth = 2;
        ctx.strokeRect(ca.left, ca.top, ca.right - ca.left, ca.bottom - ca.top);
        ctx.lineWidth = 1.2;
        const minors = (ticks: number[], mn: number, mx: number) => {
          const st = ticks[1] - ticks[0]; const o: number[] = [];
          for (let i = -1; i < ticks.length; i++) { const m = ticks[0] + (i + 0.5) * st; if (m > mn && m < mx) o.push(m); }
          return o;
        };
        minors(cfg.xTicks, cfg.xMin, cfg.xMax).forEach((v) => { const p = xs.getPixelForValue(v); ctx.beginPath(); ctx.moveTo(p, ca.bottom); ctx.lineTo(p, ca.bottom + 2.5); ctx.stroke(); });
        minors(cfg.yTicks, cfg.yMin, cfg.yMax).forEach((v) => { const p = ys.getPixelForValue(v); ctx.beginPath(); ctx.moveTo(ca.left, p); ctx.lineTo(ca.left - 2.5, p); ctx.stroke(); });
        ctx.fillStyle = '#141414';
        ctx.textBaseline = 'middle';
        ctx.font = `${cfg.annWeight} ${cfg.annSize}px ${SANS}`;
        cfg.anns.forEach((a) => { ctx.textAlign = a.al || 'left'; ctx.fillText(a.t, xs.getPixelForValue(a.x), ys.getPixelForValue(a.y)); });
        ctx.restore();
      },
    };
    const tickFont = { family: SANS, size: cfg.tickSize, weight: 'bold' as const };
    const titleFont = { family: SANS, size: cfg.titleSize, weight: cfg.titleWeight as any };
    const chart = new Chart(canvas, {
      type: 'scatter',
      data: {
        datasets: [
          lineDs(cfg.mean, '#ff2020', 2.2, []),
          lineDs(cfg.upper, '#2233ff', 2, [5, 4]),
          lineDs(cfg.lower, '#2233ff', 2, [5, 4]),
          { type: 'scatter', data: cfg.pts.map(([x, y]) => ({ x, y })), backgroundColor: cfg.fill, borderColor: cfg.stroke, borderWidth: cfg.bw, pointRadius: cfg.r, pointHoverRadius: cfg.r },
        ] as any,
      },
      options: {
        responsive: false,
        animation: false,
        devicePixelRatio: 1,
        events: [],
        layout: { padding: { left: 0, top: PAD_T, right: PAD_R, bottom: 0 } },
        plugins: { legend: { display: false }, tooltip: { enabled: false } },
        scales: {
          x: {
            type: 'linear', min: cfg.xMin, max: cfg.xMax,
            afterBuildTicks: (s: any) => { s.ticks = cfg.xTicks.map((v) => ({ value: v })); },
            afterFit: (s: any) => { s.height = cfg.xh; },
            ticks: { font: tickFont, color: '#141414', padding: 1, autoSkip: false, maxRotation: 0, callback: (v: any) => String(v) },
            grid: { display: true, drawOnChartArea: false, drawTicks: true, tickLength: 4, color: '#000', lineWidth: 1.4 },
            border: { display: true, color: '#000', width: 2 },
            title: { display: true, text: cfg.xTitle, font: titleFont, color: '#141414', padding: 0 },
          },
          y: {
            type: 'linear', min: cfg.yMin, max: cfg.yMax,
            afterBuildTicks: (s: any) => { s.ticks = cfg.yTicks.map((v) => ({ value: v })); },
            afterFit: (s: any) => { s.width = cfg.yw; },
            ticks: { font: tickFont, color: '#141414', padding: 1, autoSkip: false, callback: (v: any) => String(v) },
            grid: { display: true, drawOnChartArea: false, drawTicks: true, tickLength: 4, color: '#000', lineWidth: 1.4 },
            border: { display: true, color: '#000', width: 2 },
            title: { display: true, text: cfg.yTitle, font: titleFont, color: '#141414', padding: 0 },
          },
        },
      } as any,
      plugins: [deco],
    });
    return () => chart.destroy();
  }, []);
  return <canvas ref={ref} width={W} height={H} style={{ position: 'absolute', left: l - cfg.yw, top: t - PAD_T, width: W, height: H }} />;
}

type Label = { t: string; x: number; y: number; c: string; s: number };
const BLUE = '#2020e0';
const RED = '#e3163f';
const labels: Label[] = [
  { t: 'Control Population', x: 500, y: 17, c: BLUE, s: 16 },
  { t: '90%', x: 232, y: 45, c: RED, s: 17 },
  { t: '95%', x: 486, y: 45, c: RED, s: 17 },
  { t: '98%', x: 760, y: 45, c: RED, s: 17 },
  { t: 'Bilirubin', x: 66, y: 143, c: RED, s: 18 },
  { t: 'Hemoglobin', x: 60, y: 370, c: RED, s: 18 },
  { t: 'Diseased Population', x: 506, y: 518, c: BLUE, s: 16 },
  { t: '90%', x: 238, y: 544, c: RED, s: 17 },
  { t: '95%', x: 494, y: 543, c: RED, s: 17 },
  { t: '98%', x: 763, y: 541, c: RED, s: 17 },
  { t: 'Jaundice', x: 926, y: 667, c: RED, s: 16 },
  { t: 'Anemia', x: 926, y: 838, c: RED, s: 16 },
];

export default function App() {
  return (
    <div style={{ position: 'absolute', left: 0, top: 0, width: 960, height: 942, background: '#fff', overflow: 'hidden' }}>
      {panels.map((p, i) => <Panel key={i} cfg={p} />)}
      {labels.map((lb, i) => (
        <div key={'l' + i} style={{ position: 'absolute', left: lb.x, top: lb.y, transform: 'translate(-50%, -50%)', color: lb.c, fontFamily: SERIF, fontWeight: 'bold', fontSize: lb.s, whiteSpace: 'nowrap', lineHeight: 1 }}>{lb.t}</div>
      ))}
    </div>
  );
}
